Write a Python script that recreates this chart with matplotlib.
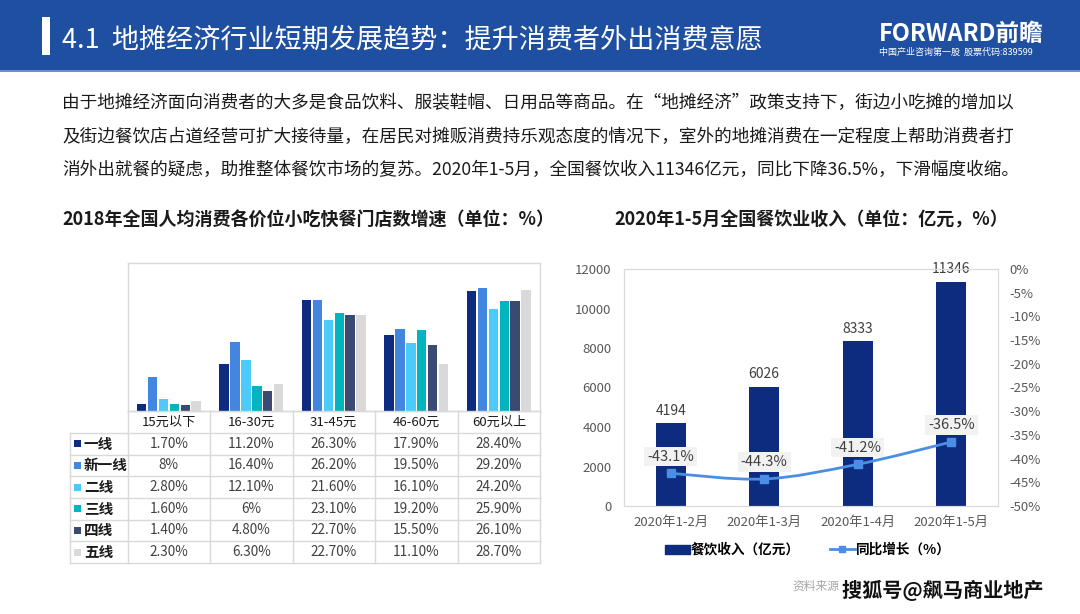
import numpy as np
import matplotlib.pyplot as plt
from matplotlib.path import Path
from matplotlib.patches import PathPatch, Rectangle
from matplotlib.lines import Line2D
import matplotlib.patheffects as pe

plt.rcParams['font.family'] = ['Noto Sans CJK SC', 'DejaVu Sans']

# ---- data: left chart (growth of snack / fast food stores by price band, %)
price_bands = ['15元以下', '16-30元', '31-45元', '46-60元', '60元以上']
tiers = ['一线', '新一线', '二线', '三线', '四线', '五线']
tier1 = [1.7, 11.2, 26.3, 17.9, 28.4]
tier_new1 = [8, 16.4, 26.2, 19.5, 29.2]
tier2 = [2.8, 12.1, 21.6, 16.1, 24.2]
tier3 = [1.6, 6, 23.1, 19.2, 25.9]
tier4 = [1.4, 4.8, 22.7, 15.5, 26.1]
tier5 = [2.3, 6.3, 22.7, 11.1, 28.7]
tier_colors = ['#0D2C7F', '#4286E0', '#4CCBFB', '#00B5BF', '#3B4A73', '#D9D9D9']

# ---- data: right chart (catering revenue 2020)
months = ['2020年1-2月', '2020年1-3月', '2020年1-4月', '2020年1-5月']
revenue = [4194, 6026, 8333, 11346]
yoy = [-43.1, -44.3, -41.2, -36.5]

W, H = 1080, 614
BLUE = '#1F4FA0'
GRID = '#D9D9D9'
TXT = '#404040'


def box(l, t, r, b):
    return [l / W, 1 - b / H, (r - l) / W, (b - t) / H]


fig = plt.figure(figsize=(W / 100, H / 100), dpi=100)

# background / header drawn in pixel coordinates
bg = fig.add_axes([0, 0, 1, 1])
bg.set_xlim(0, W)
bg.set_ylim(H, 0)
bg.axis('off')
bg.add_patch(Rectangle((0, 0), W, 70, color=BLUE, lw=0))
bg.add_patch(Rectangle((0, 70), W, 1.5, color='#6F8FCB', lw=0))
bg.add_patch(Rectangle((42, 17), 8, 38, color='white', lw=0))
bg.text(62, 40, '4.1  地摊经济行业短期发展趋势：提升消费者外出消费意愿', color='white',
        fontsize=19.5, va='center', ha='left')
bg.text(879, 34, 'FORWARD前瞻', color='white', fontsize=17, fontweight='bold',
        va='center', ha='left')
bg.text(879, 52, '中国产业咨询第一股  股票代码:839599', color='white', fontsize=6.5,
        va='center', ha='left')

para = ['由于地摊经济面向消费者的大多是食品饮料、服装鞋帽、日用品等商品。在“地摊经济”政策支持下，街边小吃摊的增加以',
        '及街边餐饮店占道经营可扩大接待量，在居民对摊贩消费持乐观态度的情况下，室外的地摊消费在一定程度上帮助消费者打',
        '消外出就餐的疑虑，助推整体餐饮市场的复苏。2020年1-5月，全国餐饮收入11346亿元，同比下降36.5%，下滑幅度收缩。']
for i, line in enumerate(para):
    bg.text(62, 103 + i * 33.5, line, fontsize=12.7, color='#1A1A1A', va='center', ha='left')

bg.text(62, 220, '2018年全国人均消费各价位小吃快餐门店数增速（单位：%）', fontsize=13,
        fontweight='bold', color='#1A1A1A', va='center', ha='left')
bg.text(811, 220, '2020年1-5月全国餐饮业收入（单位：亿元，%）', fontsize=13,
        fontweight='bold', color='#1A1A1A', va='center', ha='center')

# ---- left chart: grouped bars
axL = fig.add_axes(box(127.7, 263, 540, 411))
axL.set_facecolor('none')
series = [tier1, tier_new1, tier2, tier3, tier4, tier5]
x = np.arange(len(price_bands))
step, width = 0.132, 0.114
for i, vals in enumerate(series):
    axL.bar(x + (i - 2.5) * step, vals, width, color=tier_colors[i], zorder=2)
axL.set_xlim(-0.5, 4.5)
axL.set_ylim(0, 35)
axL.set_xticks([])
axL.set_yticks([])
for s in axL.spines.values():
    s.set_color(GRID)
    s.set_linewidth(1)

# data table under the bars
col_x = [127.7, 210, 292.5, 375, 458, 540]
row_y = [411, 433, 454.5, 476, 498, 519.5, 541, 563]
lw_t = 1
for cx in col_x:
    bg.plot([cx, cx], [411, 563], color=GRID, lw=lw_t)
bg.plot([70, 70], [433, 563], color=GRID, lw=lw_t)
bg.plot([127.7, 540], [411, 411], color=GRID, lw=lw_t)
for ry in row_y[1:]:
    bg.plot([70, 540], [ry, ry], color=GRID, lw=lw_t)

for j, band in enumerate(price_bands):
    cx = (col_x[j] + col_x[j + 1]) / 2
    bg.text(cx, (row_y[0] + row_y[1]) / 2, band, fontsize=9.5, color='#1A1A1A',
            ha='center', va='center')
for i, (name, vals) in enumerate(zip(tiers, series)):
    cy = (row_y[i + 1] + row_y[i + 2]) / 2
    bg.add_patch(Rectangle((74, cy - 3.5), 7, 7, color=tier_colors[i], lw=0))
    bg.text(84, cy, name, fontsize=10.5, fontweight='bold', color='#1A1A1A',
            ha='left', va='center')
    for j, v in enumerate(vals):
        cx = (col_x[j] + col_x[j + 1]) / 2
        lab = f'{v:g}%' if float(v).is_integer() else f'{v:.2f}%'
        bg.text(cx, cy, lab, fontsize=9.8, color=TXT, ha='center', va='center')

# ---- right chart: revenue bars + yoy line
axR = fig.add_axes(box(624, 269, 998, 506))
axR.set_facecolor('none')
xr = np.arange(len(months))
axR.bar(xr, revenue, 0.32, color='#0D2C7F', zorder=2)
for xi, v in zip(xr, revenue):
    axR.annotate(f'{v}', (xi, v), xytext=(0, 4), textcoords='offset points',
                 ha='center', va='bottom', fontsize=10, color=TXT)
axR.set_xlim(-0.5, 3.5)
axR.set_ylim(0, 12000)
axR.set_yticks(range(0, 12001, 2000))
axR.set_xticks(xr)
axR.set_xticklabels(months)
axR.tick_params(length=0, labelsize=9.5, labelcolor='#595959')
axR.tick_params(axis='y', pad=9)
axR.tick_params(axis='x', pad=7)
for s in axR.spines.values():
    s.set_color(GRID)

ax2 = axR.twinx()
ax2.set_ylim(-50, 0)
ax2.set_yticks(range(-50, 1, 5))
ax2.set_yticklabels([f'{v}%' for v in range(-50, 1, 5)])
ax2.tick_params(length=0, labelsize=9.5, labelcolor='#595959', pad=8)
for s in ax2.spines.values():
    s.set_color(GRID)

# smoothed line (bezier through the points)
LINE = '#4A8FE5'
pts = np.column_stack([xr, yoy]).astype(float)
ext = np.vstack([pts[0], pts, pts[-1]])
verts = [tuple(pts[0])]
codes = [Path.MOVETO]
for k in range(len(pts) - 1):
    p0, p1, p2, p3 = ext[k], ext[k + 1], ext[k + 2], ext[k + 3]
    c1 = p1 + (p2 - p0) / 6
    c2 = p2 - (p3 - p1) / 6
    verts += [tuple(c1), tuple(c2), tuple(p2)]
    codes += [Path.CURVE4] * 3
ax2.add_patch(PathPatch(Path(verts, codes), fill=False, edgecolor=LINE, lw=2, zorder=3))
ax2.plot(xr, yoy, 's', color=LINE, ms=6, zorder=4)
for xi, v in zip(xr, yoy):
    ax2.annotate(f'{v}%', (xi, v), xytext=(0, 7), textcoords='offset points',
                 ha='center', va='bottom', fontsize=10.5, color=TXT, zorder=5,
                 bbox=dict(boxstyle='square,pad=0.2', fc='#F2F2F2', ec='none'))

handles = [Rectangle((0, 0), 1, 1, color='#0D2C7F'),
           Line2D([0], [0], color=LINE, lw=2, marker='s', ms=4)]
fig.legend(handles, ['餐饮收入（亿元）', '同比增长（%）'], loc='center',
           bbox_to_anchor=(808 / W, 1 - 550 / H), ncol=2, frameon=False,
           prop={'size': 9.8, 'weight': 'bold'}, handlelength=1.8, handleheight=0.6,
           handletextpad=0.1, columnspacing=2.2)

# footer
bg.text(792, 586, '资料来源', fontsize=8.5, color='#A6A6A6', va='center', ha='left')
bg.text(842, 591, '搜狐号@飙马商业地产', fontsize=14.5, color='#111111', va='center', ha='left',
        fontweight='bold', zorder=10,
        path_effects=[pe.withStroke(linewidth=2.5, foreground='white')])

fig.savefig('out.png', dpi=100)
